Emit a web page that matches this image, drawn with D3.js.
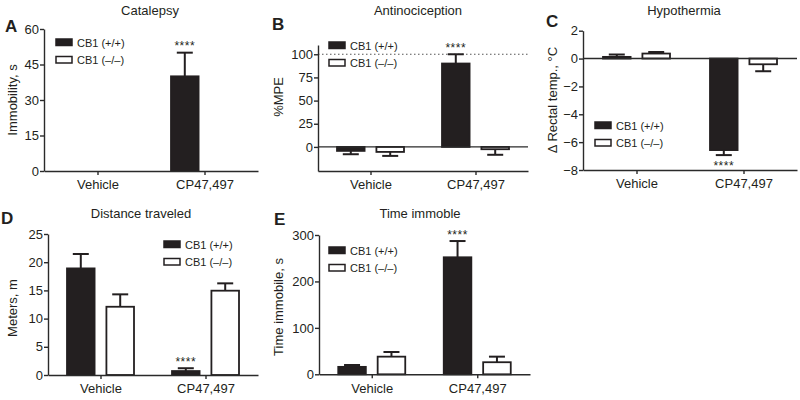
<!DOCTYPE html>
<html lang="en">
  <head>
    <meta charset="UTF-8" />
    <title>CB1 panels</title>
    <script src="https://d3js.org/d3.v7.min.js"></script>
    <style>
      body {
        margin: 0;
        background: #ffffff;
        font-family: "Liberation Sans", Arial, sans-serif;
      }
      svg {
        display: block;
      }
      text {
        fill: #231f20;
      }
      .axis path,
      .axis line {
        stroke: #2a2a2a;
        stroke-width: 1.4px;
      }
    </style>
  </head>
  <body>
    <script>
      const w = 800;
      const h = 400;

      // data
      const groups = ["Vehicle", "CP47,497"];
      const genotypes = ["CB1 (+/+)", "CB1 (\u2013/\u2013)"];

      const catalepsyWT = [0, 40];
      const catalepsyWTErr = [0, 10];
      const catalepsyKO = [0, 0];
      const catalepsyKOErr = [0, 0];
      const catalepsyTicks = [0, 15, 30, 45, 60];

      const antinoWT = [-4.3, 90];
      const antinoWTErr = [3.6, 10];
      const antinoKO = [-5.4, -2.5];
      const antinoKOErr = [4.3, 6];
      const antinoTicks = [0, 25, 50, 75, 100];

      const hypoWT = [0.12, -6.57];
      const hypoWTErr = [0.17, 0.36];
      const hypoKO = [0.36, -0.41];
      const hypoKOErr = [0.11, 0.5];
      const hypoTicks = [-8, -6, -4, -2, 0, 2];

      const distWT = [18.9, 0.7];
      const distWTErr = [2.55, 0.5];
      const distKO = [12.1, 14.95];
      const distKOErr = [2.2, 1.3];
      const distTicks = [0, 5, 10, 15, 20, 25];

      const immobWT = [16, 252];
      const immobWTErr = [4, 35];
      const immobKO = [38, 26];
      const immobKOErr = [10, 12];
      const immobTicks = [0, 100, 200, 300];

      const panels = [
        {
          letter: "A", title: "Catalepsy", ylabel: "Immobility, s",
          wt: catalepsyWT, wtErr: catalepsyWTErr, ko: catalepsyKO, koErr: catalepsyKOErr,
          ticks: catalepsyTicks, domain: [0, 60],
          x0: 44, x1: 258, yTop: 29, yBot: 171,
          titleX: 150, titleY: 15, letterX: 5, letterY: 32, labX: 17, labY: 100,
          legX: 56, legY: 39,
        },
        {
          letter: "B", title: "Antinociception", ylabel: "%MPE",
          wt: antinoWT, wtErr: antinoWTErr, ko: antinoKO, koErr: antinoKOErr,
          ticks: antinoTicks, domain: [-26, 110], zero: true, dotted: 100,
          x0: 318, x1: 528, yTop: 45, yBot: 171,
          titleX: 418, titleY: 15, letterX: 272, letterY: 30, labX: 283, labY: 97,
          legX: 329, legY: 42,
        },
        {
          letter: "C", title: "Hypothermia", ylabel: "\u0394 Rectal temp., \u00b0C",
          wt: hypoWT, wtErr: hypoWTErr, ko: hypoKO, koErr: hypoKOErr,
          ticks: hypoTicks, domain: [-8, 2], zero: true,
          x0: 583, x1: 797, yTop: 30.7, yBot: 170,
          titleX: 684, titleY: 15, letterX: 546, letterY: 27, labX: 557, labY: 100,
          legX: 595, legY: 122,
        },
        {
          letter: "D", title: "Distance traveled", ylabel: "Meters, m",
          wt: distWT, wtErr: distWTErr, ko: distKO, koErr: distKOErr,
          ticks: distTicks, domain: [0, 25],
          x0: 48, x1: 258, yTop: 234, yBot: 375,
          titleX: 141, titleY: 218, letterX: 1, letterY: 224, labX: 17, labY: 308,
          legX: 164, legY: 241,
        },
        {
          letter: "E", title: "Time immoble", ylabel: "Time immobile, s",
          wt: immobWT, wtErr: immobWTErr, ko: immobKO, koErr: immobKOErr,
          ticks: immobTicks, domain: [0, 300],
          x0: 319, x1: 530, yTop: 235, yBot: 374.3,
          titleX: 420, titleY: 218, letterX: 274, letterY: 225, labX: 283, labY: 307,
          legX: 329, legY: 247,
        },
      ];

      const svg = d3.select("body").append("svg").attr("width", w).attr("height", h);

      const drawPanel = (p) => {
        const g = svg.append("g");
        const x = d3.scalePoint().domain(groups).range([p.x0, p.x1]).padding(0.5);
        const sub = d3.scaleBand().domain([0, 1]).range([-33.5, 33.5]).paddingInner(0.3);
        const y = d3.scaleLinear().domain(p.domain).range([p.yBot, p.yTop]);

        const rows = [];
        groups.forEach((grp, i) => {
          rows.push({ grp, k: 0, v: p.wt[i], e: p.wtErr[i], star: i === 1 });
          rows.push({ grp, k: 1, v: p.ko[i], e: p.koErr[i], star: false });
        });

        // dotted reference line
        if (p.dotted !== undefined) {
          g.append("line")
            .attr("x1", p.x0).attr("x2", p.x1)
            .attr("y1", y(p.dotted)).attr("y2", y(p.dotted))
            .attr("stroke", "#555").attr("stroke-width", 1.2)
            .attr("stroke-dasharray", "1.5,2.5");
        }

        // error bars (one-sided, away from zero)
        const err = g.append("g").selectAll("g").data(rows.filter((d) => d.e > 0)).join("g");
        const cx = (d) => x(d.grp) + sub(d.k) + sub.bandwidth() / 2;
        const tip = (d) => y(d.v + Math.sign(d.v) * d.e);
        err.append("line")
          .attr("x1", cx).attr("x2", cx)
          .attr("y1", (d) => y(d.v)).attr("y2", tip)
          .attr("stroke", "#231f20").attr("stroke-width", 2);
        err.append("line")
          .attr("x1", (d) => cx(d) - 8).attr("x2", (d) => cx(d) + 8)
          .attr("y1", tip).attr("y2", tip)
          .attr("stroke", "#231f20").attr("stroke-width", 2);

        // bars
        g.append("g").selectAll("rect").data(rows.filter((d) => d.v !== 0)).join("rect")
          .attr("x", (d) => x(d.grp) + sub(d.k))
          .attr("width", sub.bandwidth())
          .attr("y", (d) => y(Math.max(0, d.v)))
          .attr("height", (d) => Math.abs(y(d.v) - y(0)))
          .attr("fill", (d) => (d.k === 0 ? "#231f20" : "#ffffff"))
          .attr("stroke", "#231f20")
          .attr("stroke-width", 1.8);

        // significance stars
        g.append("g").selectAll("text").data(rows.filter((d) => d.star)).join("text")
          .attr("x", cx)
          .attr("y", (d) => (d.v >= 0 ? tip(d) - 2.5 : tip(d) + 14.5))
          .attr("text-anchor", "middle")
          .attr("font-size", 12)
          .attr("letter-spacing", 0.5)
          .text("****");

        // axes
        g.append("g").attr("class", "axis")
          .attr("transform", `translate(0, ${p.yBot})`)
          .call(d3.axisBottom(x).tickSize(4).tickSizeOuter(0).tickPadding(5))
          .call((a) => a.selectAll("text").attr("font-size", 13).attr("font-family", "Liberation Sans, Arial, sans-serif"));

        g.append("g").attr("class", "axis")
          .attr("transform", `translate(${p.x0}, 0)`)
          .call(d3.axisLeft(y).tickValues(p.ticks).tickSize(4).tickSizeOuter(0).tickPadding(1))
          .call((a) => a.selectAll("text").attr("font-size", 13).attr("font-family", "Liberation Sans, Arial, sans-serif"));

        if (p.zero) {
          g.append("line")
            .attr("x1", p.x0).attr("x2", p.x1)
            .attr("y1", y(0)).attr("y2", y(0))
            .attr("stroke", "#2a2a2a").attr("stroke-width", 1.4);
        }

        // titles and labels
        g.append("text").attr("x", p.titleX).attr("y", p.titleY)
          .attr("text-anchor", "middle").attr("font-size", 13).text(p.title);
        g.append("text").attr("x", p.letterX).attr("y", p.letterY)
          .attr("font-size", 17).attr("font-weight", "bold").text(p.letter);
        g.append("text")
          .attr("transform", `translate(${p.labX}, ${p.labY}) rotate(-90)`)
          .attr("text-anchor", "middle").attr("font-size", 13).text(p.ylabel);

        // legend
        const leg = g.append("g").attr("transform", `translate(${p.legX}, ${p.legY})`);
        const item = leg.selectAll("g").data(genotypes).join("g")
          .attr("transform", (d, i) => `translate(0, ${i * 17.5})`);
        item.append("rect")
          .attr("width", 16).attr("height", 6.5)
          .attr("fill", (d, i) => (i === 0 ? "#231f20" : "#ffffff"))
          .attr("stroke", "#231f20").attr("stroke-width", 1.5);
        item.append("text").attr("x", 21).attr("y", 7.5)
          .attr("font-size", 11).text((d) => d);
      };

      panels.forEach(drawPanel);
    </script>
  </body>
</html>
